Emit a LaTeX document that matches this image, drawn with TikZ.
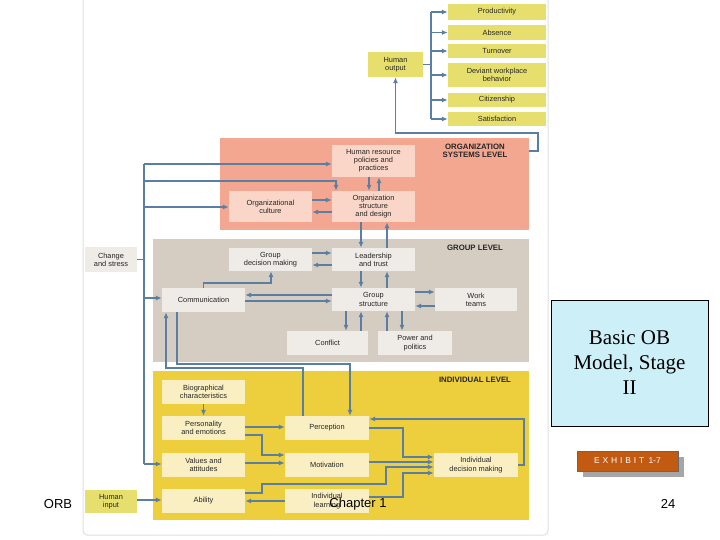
\documentclass[tikz,border=0pt]{standalone}
\usepackage{fontspec}
\setmainfont{Liberation Sans}
\newfontfamily\serifF{Liberation Serif}
\usetikzlibrary{arrows.meta}
\definecolor{acol}{HTML}{5A7FA3}
\definecolor{outY}{HTML}{E6DF6E}
\definecolor{orgBG}{HTML}{F3A690}
\definecolor{orgBx}{HTML}{FAD6C8}
\definecolor{grpBG}{HTML}{D6CDC2}
\definecolor{grpBx}{HTML}{EFEBE6}
\definecolor{indBG}{HTML}{EDCF3E}
\definecolor{indBx}{HTML}{FAEFC2}
\definecolor{slideB}{HTML}{CDEFF8}
\definecolor{exO}{HTML}{C25A12}
\tikzset{
 bx/.style={rectangle,inner sep=0pt,align=center,font=\fontsize{7.4}{8.2}\selectfont,text=black!85},
 ln/.style={draw=acol,line width=1.2pt},
 arr/.style={ln,-{Latex[length=6pt,width=5pt]}},
 lvl/.style={rectangle,inner sep=0pt},
 ttl/.style={font=\bfseries\fontsize{7.8}{8.6}\selectfont,align=center,text=black!85}
}
\begin{document}
\begin{tikzpicture}[x=1pt,y=-1pt]
\useasboundingbox (0,0) rectangle (720,540);
\fill[white] (0,0) rectangle (720,540);
% panel
\draw[black!12,line width=1pt,rounded corners=4pt] (83,-4) rectangle (548,535);
% level backgrounds
\node[lvl,fill=orgBG,minimum width=309,minimum height=92] (orgR) at (374.5,184) {};
\node[lvl,fill=grpBG,minimum width=376,minimum height=123] (grpR) at (341,300.5) {};
\node[lvl,fill=indBG,minimum width=376,minimum height=149] (indR) at (341,445.5) {};
\node[ttl] (t1) at (475,151) {ORGANIZATION\\SYSTEMS LEVEL};
\node[ttl] (t2) at (475,248) {GROUP LEVEL};
\node[ttl] (t3) at (475,380) {INDIVIDUAL LEVEL};
% outcomes
\node[bx,fill=outY,minimum width=98,minimum height=16] (prod) at (497,12) {Productivity};
\node[bx,fill=outY,minimum width=98,minimum height=15] (abs) at (497,32.5) {Absence};
\node[bx,fill=outY,minimum width=98,minimum height=14] (turn) at (497,51) {Turnover};
\node[bx,fill=outY,minimum width=98,minimum height=24] (dev) at (497,75) {Deviant workplace\\behavior};
\node[bx,fill=outY,minimum width=98,minimum height=14] (cit) at (497,100) {Citizenship};
\node[bx,fill=outY,minimum width=98,minimum height=14] (sat) at (497,119) {Satisfaction};
\node[bx,fill=outY,minimum width=55,minimum height=25] (ho) at (395.5,64.5) {Human\\output};
% org
\node[bx,fill=orgBx,minimum width=83,minimum height=32] (hr) at (373.5,161) {Human resource\\policies and\\practices};
\node[bx,fill=orgBx,minimum width=83,minimum height=31] (os) at (373.5,206.5) {Organization\\structure\\and design};
\node[bx,fill=orgBx,minimum width=83,minimum height=31] (cul) at (270.5,206.5) {Organizational\\culture};
% group
\node[bx,fill=grpBx,minimum width=52,minimum height=25] (chg) at (111,259.5) {Change\\and stress};
\node[bx,fill=grpBx,minimum width=83,minimum height=23] (gdm) at (270.5,259.5) {Group\\decision making};
\node[bx,fill=grpBx,minimum width=83,minimum height=23] (lead) at (373.5,259.5) {Leadership\\and trust};
\node[bx,fill=grpBx,minimum width=83,minimum height=23] (gs) at (373.5,299.5) {Group\\structure};
\node[bx,fill=grpBx,minimum width=83,minimum height=24] (comm) at (203.5,300) {Communication};
\node[bx,fill=grpBx,minimum width=82,minimum height=23] (wt) at (476,299.5) {Work\\teams};
\node[bx,fill=grpBx,minimum width=81,minimum height=24] (conf) at (327.5,343) {Conflict};
\node[bx,fill=grpBx,minimum width=74,minimum height=24] (pow) at (415,343) {Power and\\politics};
% individual
\node[bx,fill=indBx,minimum width=83,minimum height=24] (bio) at (203.5,392) {Biographical\\characteristics};
\node[bx,fill=indBx,minimum width=83,minimum height=24] (pers) at (203.5,428) {Personality\\and emotions};
\node[bx,fill=indBx,minimum width=83,minimum height=24] (val) at (203.5,465) {Values and\\attitudes};
\node[bx,fill=indBx,minimum width=83,minimum height=24] (abil) at (203.5,501) {Ability};
\node[bx,fill=indBx,minimum width=84,minimum height=24] (perc) at (327,428) {Perception};
\node[bx,fill=indBx,minimum width=84,minimum height=24] (mot) at (327,465) {Motivation};
\node[bx,fill=indBx,minimum width=84,minimum height=24] (learn) at (327,501) {Individual\\learning};
\node[bx,fill=indBx,minimum width=84,minimum height=24] (dm) at (476,465) {Individual\\decision making};
\node[bx,fill=outY,minimum width=52,minimum height=23] (hin) at (111,501.5) {Human\\input};
% helper coordinates
\foreach \v in {144,166,177,203.5,262,271,303,336,346,350,361,369,379,387,402,403,431}{\coordinate (x\v) at (\v,0);}
\foreach \v in {151,164,181,200,207,212,253,265,292,295,298,301,306,419,427,428,435,455,457,462,463,464,467,473,484,493,497,500,501}{\coordinate (y\v) at (0,\v);}
% outputs
\draw[ln] (ho.east) -- (ho.east -| x431);
\draw[ln] (prod.west -| x431) -- (sat.west -| x431);
\foreach \n in {prod,abs,turn,dev,cit,sat}{\draw[arr] (\n.west -| x431) -- (\n.west);}
\draw[arr] (orgR.east |- y151) -- (538,151) |- (395.5,133) -- (ho.south);
% left bus
\draw[ln] (x144 |- y164) -- (x144 |- y464);
\draw[ln] (chg.east) -- (chg.east -| x144);
\draw[arr] (x144 |- y164) -- (hr.west |- y164);
\draw[arr] (x144 |- y181) -- (336,181) -- (os.north -| x336);
\draw[arr] (x144 |- y207) -- (cul.west |- y207);
\draw[arr] (x144 |- y298) -- (comm.west |- y298);
\draw[arr] (x144 |- y464) -- (val.west |- y464);
% org
\draw[arr] (hr.south -| x369) -- (os.north -| x369);
\draw[arr] (os.north -| x379) -- (hr.south -| x379);
\draw[arr] (cul.east |- y200) -- (os.west |- y200);
\draw[arr] (os.west |- y212) -- (cul.east |- y212);
\draw[arr] (os.south -| x361) -- (lead.north -| x361);
\draw[arr] (lead.north -| x387) -- (os.south -| x387);
% group
\draw[arr] (gdm.east |- y253) -- (lead.west |- y253);
\draw[arr] (lead.west |- y265) -- (gdm.east |- y265);
\draw[arr] (lead.south -| x361) -- (gs.north -| x361);
\draw[arr] (gs.north -| x387) -- (lead.south -| x387);
\draw[arr] (comm.north) -- (203.5,283) -| (gdm.south -| x271);
\draw[arr] (gs.west |- y295) -- (comm.east |- y295);
\draw[arr] (comm.east |- y301) -- (gs.west |- y301);
\draw[arr] (gs.east |- y292) -- (wt.west |- y292);
\draw[arr] (wt.west |- y306) -- (gs.east |- y306);
\draw[arr] (gs.south -| x346) -- (conf.north -| x346);
\draw[arr] (conf.north -| x361) -- (gs.south -| x361);
\draw[arr] (pow.north -| x387) -- (gs.south -| x387);
\draw[arr] (gs.south -| x402) -- (pow.north -| x402);
\draw[arr] (comm.south -| x177) |- (350,364) -- (perc.north -| x350);
\draw[arr] (perc.north -| x303) |- (166,368) -- (comm.south -| x166);
% individual
\draw[arr] (bio.south) -- (pers.north);
\draw[arr] (pers.east |- y427) -- (perc.west |- y427);
\draw[arr] (pers.east |- y435) -| (262,455) -- (mot.west |- y455);
\draw[arr] (val.east |- y463) -- (mot.west |- y463);
\draw[arr] (hin.east |- y500) -- (abil.west |- y500);
\draw[arr] (learn.west |- y501) -- (abil.east |- y501);
\draw[arr] (abil.east |- y493) -| (262,484) -| (386,467) -- (dm.west |- y467);
\draw[arr] (learn.east |- y497) -| (403,473) -- (dm.west |- y473);
\draw[arr] (perc.east |- y428) -| (403,457) -- (dm.west |- y457);
\draw[arr] (mot.east |- y462) -- (dm.west |- y462);
\draw[arr] (dm.east) -- (524,465) |- (perc.east |- y419);
% slide items
\node[rectangle,draw=black,line width=0.8pt,fill=slideB,minimum width=157,minimum height=126,inner sep=0pt,align=center,font=\serifF\fontsize{21}{25}\selectfont] (ttlbox) at (629.5,363) {Basic OB\\Model, Stage\\II};
\fill[black!35] (583,457) rectangle (684,477);
\node[rectangle,draw=black!60,fill=exO,minimum width=101,minimum height=20,inner sep=0pt,text=white,font=\fontsize{8.5}{9}\selectfont] (ex) at (627.5,461) {E\,\,X\,\,H\,\,I\,\,B\,\,I\,\,T\,\,\,1-7};
\node[font=\fontsize{13}{14}\selectfont] (orb) at (58,504) {ORB};
\node[font=\fontsize{13}{14}\selectfont] (chap) at (358,504) {Chapter 1};
\node[font=\fontsize{13}{14}\selectfont] (pg) at (668,504) {24};
\end{tikzpicture}
\end{document}
